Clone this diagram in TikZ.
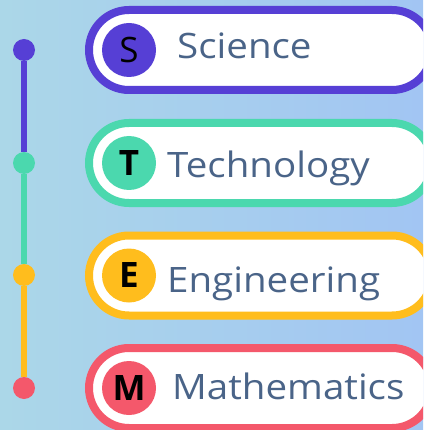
\documentclass[tikz,border=0pt]{standalone}
\usepackage{fontspec}
\setmainfont{Open Sans}
\newfontfamily\stemfont[FakeStretch=1.1]{Open Sans}

\definecolor{stemS}{HTML}{563FD5}
\definecolor{stemT}{HTML}{4BD8AE}
\definecolor{stemE}{HTML}{FFBD1D}
\definecolor{stemM}{HTML}{F4586B}
\definecolor{labelblue}{HTML}{4A6488}
\definecolor{bgleft}{HTML}{ABD7E8}
\definecolor{bgright}{HTML}{A2C5F3}

\tikzset{
	stopdot/.style={circle, fill=#1, minimum size=22pt, inner sep=0pt, outer sep=0pt},
	track/.style={draw=#1, line width=6pt},
	pill/.style={draw=#1, line width=8pt, fill=white, rounded corners=40pt,
		minimum width=343pt, minimum height=80pt, inner sep=0pt},
	badge/.style={circle, fill=#1, minimum size=54pt, inner sep=0pt, text=black,
		font=\fontsize{35}{35}\selectfont},
	subject/.style={anchor=base west, inner sep=0pt, text=labelblue,
		font=\stemfont\fontsize{35}{40}\selectfont},
}

\begin{document}
\begin{tikzpicture}[x=1pt, y=-1pt]
	\useasboundingbox (0,0) rectangle (423,430);
	\clip (0,0) rectangle (423,430);
	\fill[left color=bgleft, right color=bgright] (0,0) rectangle (423,430);

	% timeline
	\node[stopdot=stemS] (sdot) at (24,50) {};
	\node[stopdot=stemT] (tdot) at (24,163) {};
	\node[stopdot=stemE] (edot) at (24,275) {};
	\node[stopdot=stemM] (mdot) at (24,388) {};
	\draw[track=stemS] (sdot) -- (tdot);
	\draw[track=stemT] (tdot) -- (edot);
	\draw[track=stemE] (edot) -- (mdot);

	% pills
	\node[pill=stemS] (spill) at (260.5,50) {};
	\node[pill=stemT] (tpill) at (260.5,163) {};
	\node[pill=stemE] (epill) at (260.5,275.5) {};
	\node[pill=stemM] (mpill) at (260.5,388) {};

	\node[badge=stemS] (sbadge) at (129,50) {S};
	\node[badge=stemT] (tbadge) at (129,163) {\bfseries T};
	\node[badge=stemE] (ebadge) at (129,275.5) {\bfseries E};
	\node[badge=stemM] (mbadge) at (129,388) {\bfseries M};

	\node[subject] (stext) at (177,59) {Science};
	\node[subject] (ttext) at (167,178) {Technology};
	\node[subject] (etext) at (167,292) {Engineering};
	\node[subject] (mtext) at (172,399) {Mathematics};
\end{tikzpicture}
\end{document}
